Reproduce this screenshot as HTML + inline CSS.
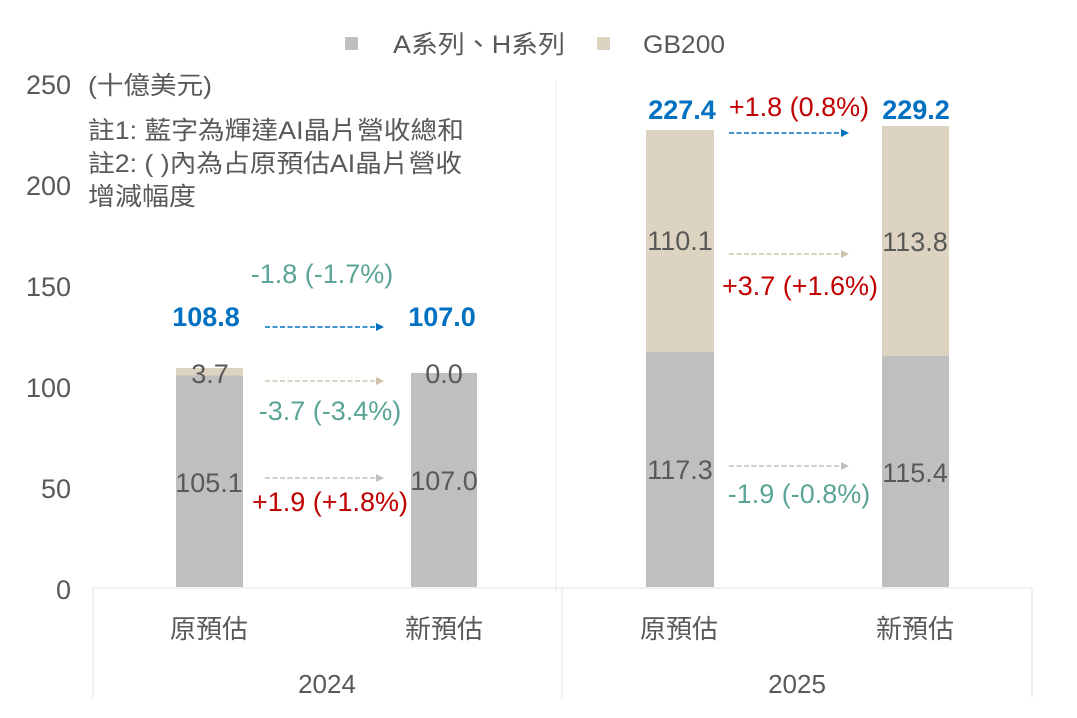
<!DOCTYPE html>
<html><head><meta charset="utf-8"><style>
html,body{margin:0;padding:0;background:#fff;}
svg{display:block;font-family:"Liberation Sans","Noto Sans CJK TC",sans-serif;}
</style></head><body>
<svg width="1077" height="718" viewBox="0 0 1077 718" xmlns="http://www.w3.org/2000/svg">
<defs>
<marker id="ab" markerWidth="8" markerHeight="8" refX="7" refY="4" orient="auto" markerUnits="userSpaceOnUse"><path d="M0,0 L8,4 L0,8z" fill="#0070c0"/></marker>
<marker id="ag" markerWidth="8" markerHeight="8" refX="7" refY="4" orient="auto" markerUnits="userSpaceOnUse"><path d="M0,0 L8,4 L0,8z" fill="#bfbfbf"/></marker>
<marker id="at" markerWidth="8" markerHeight="8" refX="7" refY="4" orient="auto" markerUnits="userSpaceOnUse"><path d="M0,0 L8,4 L0,8z" fill="#cfc3ad"/></marker>
</defs>
<rect x="345" y="37" width="13" height="13" fill="#bfbfbf"/>
<text x="393" y="53" font-size="25" fill="#595959" textLength="172" lengthAdjust="spacingAndGlyphs">A系列、H系列</text>
<rect x="597" y="37" width="13" height="13" fill="#ddd3c1"/>
<text x="643" y="53" font-size="25" fill="#595959" textLength="82" lengthAdjust="spacingAndGlyphs">GB200</text>
<g font-size="27" fill="#595959" text-anchor="end">
<text x="71" y="94">250</text><text x="71" y="195">200</text><text x="71" y="296">150</text>
<text x="71" y="397">100</text><text x="71" y="498">50</text><text x="71" y="599">0</text>
</g>
<text x="88" y="94" font-size="25" fill="#595959" textLength="124" lengthAdjust="spacingAndGlyphs">(十億美元)</text>
<g font-size="25" fill="#595959">
<text x="88" y="139" textLength="376" lengthAdjust="spacingAndGlyphs">註1: 藍字為輝達AI晶片營收總和</text>
<text x="88" y="172" textLength="374" lengthAdjust="spacingAndGlyphs">註2: ( )內為占原預估AI晶片營收</text>
<text x="88" y="205" textLength="108" lengthAdjust="spacingAndGlyphs">增減幅度</text>
</g>
<line x1="556" y1="80" x2="556" y2="592" stroke="#e8ecee" stroke-width="1"/>
<line x1="93" y1="588" x2="1032" y2="588" stroke="#e3e8ea" stroke-width="1.2"/>
<line x1="93" y1="588" x2="93" y2="698" stroke="#e3e8ea" stroke-width="1.2"/>
<line x1="562" y1="588" x2="562" y2="698" stroke="#e3e8ea" stroke-width="1.2"/>
<line x1="1032" y1="588" x2="1032" y2="698" stroke="#e3e8ea" stroke-width="1.2"/>
<rect x="176" y="375" width="67" height="212" fill="#bfbfbf"/>
<rect x="176" y="368" width="67" height="7.5" fill="#ddd3c1"/>
<rect x="411" y="373" width="66" height="214" fill="#bfbfbf"/>
<rect x="646" y="352" width="68" height="235" fill="#bfbfbf"/>
<rect x="646" y="130" width="68" height="222" fill="#ddd3c1"/>
<rect x="882" y="356" width="67" height="231" fill="#bfbfbf"/>
<rect x="882" y="126" width="67" height="230" fill="#ddd3c1"/>
<g stroke-width="1.6" stroke-dasharray="5,2.5" fill="none">
<line x1="265" y1="327" x2="383" y2="327" stroke="#0070c0" marker-end="url(#ab)"/>
<line x1="265" y1="381" x2="383" y2="381" stroke="#cfc3ad" marker-end="url(#at)"/>
<line x1="265" y1="478" x2="383" y2="478" stroke="#bfbfbf" marker-end="url(#ag)"/>
<line x1="729" y1="133" x2="848" y2="133" stroke="#0070c0" marker-end="url(#ab)"/>
<line x1="729" y1="254" x2="848" y2="254" stroke="#cfc3ad" marker-end="url(#at)"/>
<line x1="729" y1="466" x2="848" y2="466" stroke="#bfbfbf" marker-end="url(#ag)"/>
</g>
<g font-size="27" font-weight="bold" fill="#0070c0" text-anchor="middle">
<text x="206" y="326">108.8</text><text x="442" y="326">107.0</text>
<text x="682" y="119">227.4</text><text x="916" y="119">229.2</text>
</g>
<g font-size="27" fill="#595959" text-anchor="middle">
<text x="210" y="383">3.7</text><text x="444" y="383">0.0</text>
<text x="209" y="492">105.1</text><text x="444" y="490">107.0</text>
<text x="680" y="250">110.1</text><text x="915" y="251">113.8</text>
<text x="680" y="479">117.3</text><text x="915" y="482">115.4</text>
</g>
<g font-size="27" text-anchor="middle">
<text x="322" y="283" fill="#5aa595">-1.8 (-1.7%)</text>
<text x="330" y="420" fill="#5aa595">-3.7 (-3.4%)</text>
<text x="330" y="511" fill="#c00000">+1.9 (+1.8%)</text>
<text x="799" y="116" fill="#c00000">+1.8 (0.8%)</text>
<text x="800" y="295" fill="#c00000">+3.7 (+1.6%)</text>
<text x="799" y="503" fill="#5aa595">-1.9 (-0.8%)</text>
</g>
<g font-size="26" fill="#595959" text-anchor="middle">
<text x="209" y="638">原預估</text><text x="444" y="638">新預估</text>
<text x="679" y="638">原預估</text><text x="915" y="638">新預估</text>
<text x="327" y="693">2024</text><text x="797" y="693">2025</text>
</g>
</svg>
</body></html>
